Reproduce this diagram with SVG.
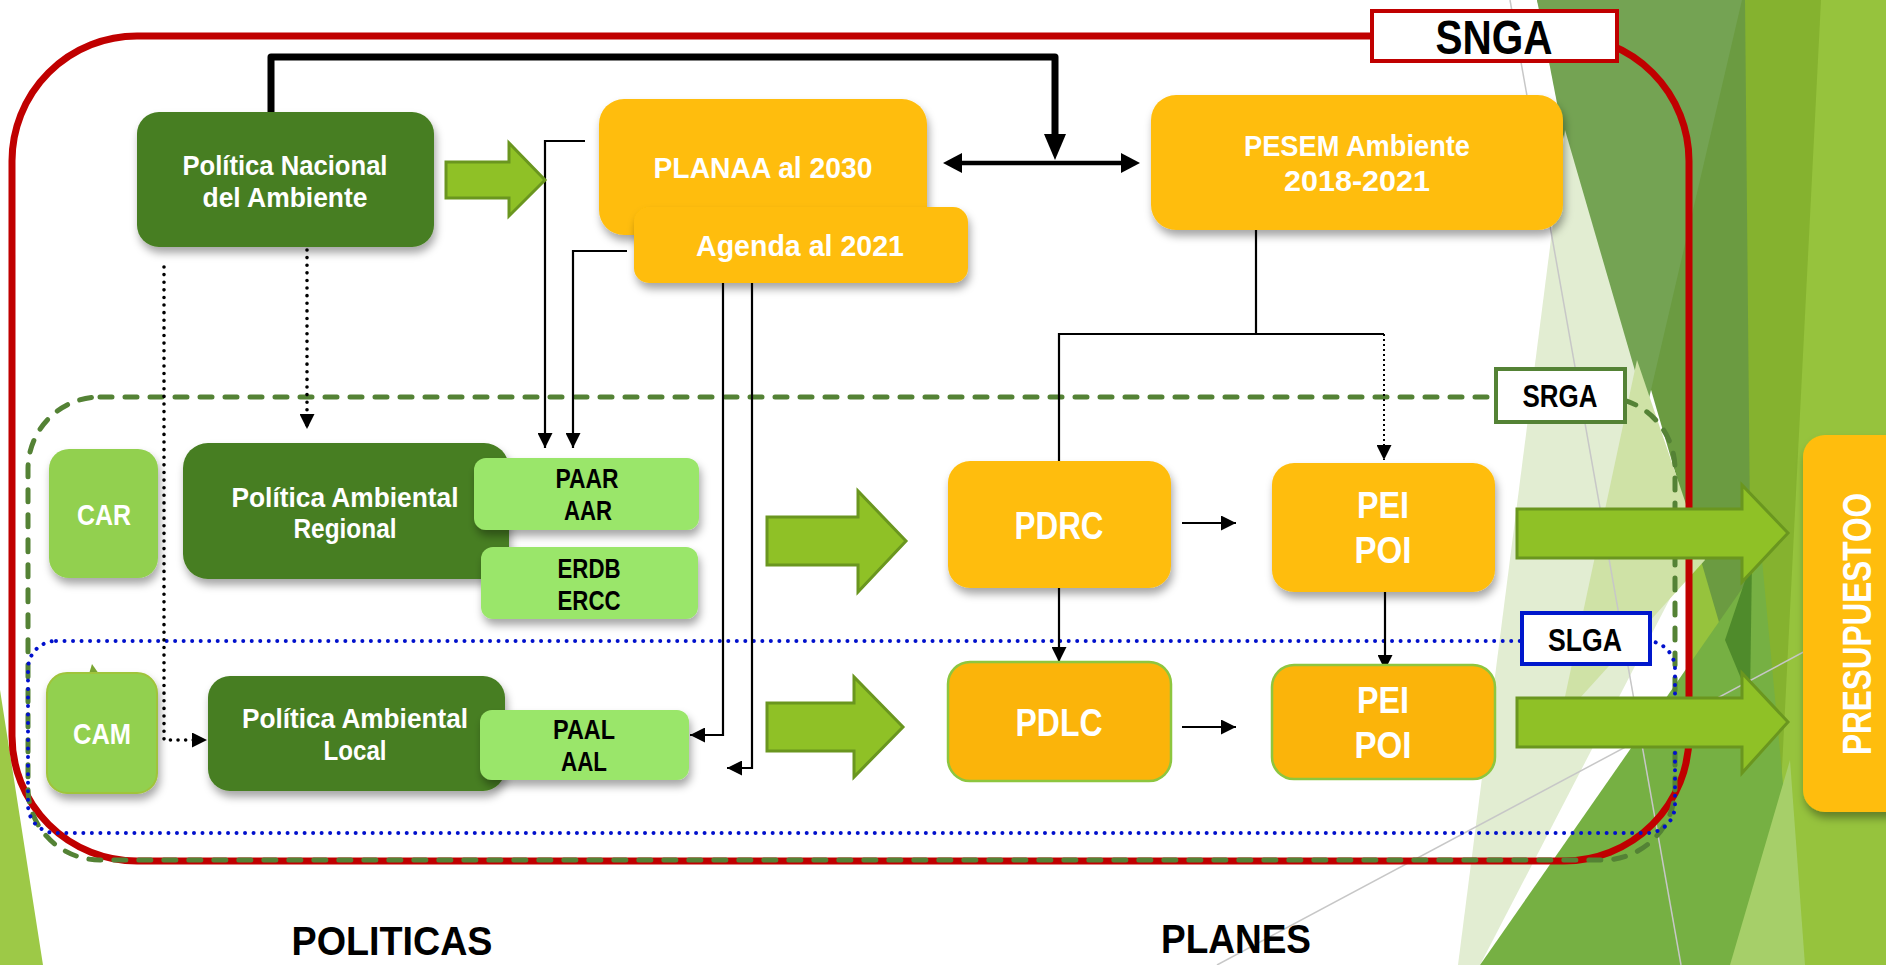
<svg xmlns="http://www.w3.org/2000/svg" width="1886" height="965" viewBox="0 0 1886 965">
<style>
.t{font-family:"Liberation Sans",Arial,sans-serif;font-weight:bold;text-anchor:middle}
.w{fill:#ffffff}
.k{fill:#000000}
.dg{fill:#467e20}
.or{fill:#ffbd0a}
.or2{fill:#fbb40a;stroke:#8dc63f;stroke-width:2.5}
.lg{fill:#9ae66b}
.car{fill:#92d050}
.thin{fill:none;stroke:#000;stroke-width:2.2}
.dot{fill:none;stroke:#000;stroke-width:3.6;stroke-dasharray:0.01 7.6;stroke-linecap:round}
.blk{fill:#8fc126;stroke:#6a961f;stroke-width:3;stroke-linejoin:miter}
.sh{filter:url(#sh)}
</style>
<defs>
<filter id="sh" x="-10%" y="-10%" width="125%" height="135%">
<feDropShadow dx="2" dy="6" stdDeviation="4" flood-color="#000" flood-opacity="0.35"/>
</filter>
<marker id="ah" viewBox="0 0 10 10" refX="10" refY="5" markerUnits="userSpaceOnUse" markerWidth="16" markerHeight="15" orient="auto">
<path d="M0,0 L10,5 L0,10 z" fill="#000"/>
</marker>
</defs>
<rect width="1886" height="965" fill="#ffffff"/>
<g id="background">
<rect x="1690" y="0" width="196" height="965" fill="#96c33d"/>
<polygon points="1716,0 1821,0 1772,965 1735,965" fill="#85b22f"/>
<polygon points="1537,0 1745,0 1752,735" fill="#6b9b41"/>
<polygon points="1537,0 1742,0 1630,480" fill="#74a353"/>
<polygon points="1565,130 1690,560 1480,965 1458,965" fill="#e2edd2"/>
<polygon points="1637,360 1705,560 1560,720" fill="#cfe2a6"/>
<polygon points="1480,965 1762,560 1800,965" fill="#76b043"/>
<polygon points="1725,640 1752,560 1750,700" fill="#4f8b2b"/>
<polygon points="1730,965 1790,760 1805,965" fill="#a6cf69"/>
<line x1="1510" y1="0" x2="1681" y2="965" stroke="#c7c7c7" stroke-width="1.5"/>
<line x1="1217" y1="965" x2="1886" y2="608" stroke="#c7c7c7" stroke-width="1.5"/>
<polygon points="0,690 43,965 0,965" fill="#9dc947"/>
</g>
<g id="regions">
<rect x="12" y="36" width="1677" height="825" rx="125" fill="none" stroke="#c00000" stroke-width="7"/>
<rect x="28" y="397" width="1647" height="463" rx="72" fill="none" stroke="#548235" stroke-width="5" stroke-dasharray="12 13" stroke-linecap="round"/>
<rect x="28" y="641" width="1647" height="192" rx="28" fill="none" stroke="#0010cc" stroke-width="4" stroke-dasharray="0.01 8.5" stroke-linecap="round"/>
</g>
<g id="connectors">
<path d="M271,113 V57 H1055 V138" fill="none" stroke="#000" stroke-width="7" stroke-linejoin="round"/>
<polygon points="1055,160 1044,134 1066,134" fill="#000"/>
<line x1="955" y1="163" x2="1128" y2="163" stroke="#000" stroke-width="4.5"/>
<polygon points="943,163 962,153 962,173" fill="#000"/>
<polygon points="1140,163 1121,153 1121,173" fill="#000"/>
<path class="thin" d="M585,141 H545 V448" marker-end="url(#ah)"/>
<path class="thin" d="M627,251 H573 V448" marker-end="url(#ah)"/>
<path class="thin" d="M723,283 V735 H690" marker-end="url(#ah)"/>
<path class="thin" d="M752,283 V768 H727" marker-end="url(#ah)"/>
<path class="dot" d="M307,250 V429" marker-end="url(#ah)"/>
<path class="dot" d="M164,267 V740 H207" marker-end="url(#ah)"/>
<path class="thin" d="M1256,230 V334"/>
<path class="thin" d="M1059,461 V334 H1384"/>
<path d="M1384,334 V460" fill="none" stroke="#000" stroke-width="2" stroke-dasharray="2 3" marker-end="url(#ah)"/>
<path class="thin" d="M1182,523 H1236" stroke-width="3" marker-end="url(#ah)"/>
<path class="thin" d="M1182,727 H1236" stroke-width="3" marker-end="url(#ah)"/>
<path class="thin" d="M1059,583 V662" marker-end="url(#ah)"/>
<path class="thin" d="M1385,592 V670" marker-end="url(#ah)"/>
<polygon class="blk" points="446,162 509,162 509,143 545,180 509,216 509,198 446,198"/>
<polygon class="blk" points="767,517 858,517 858,491 906,541 858,592 858,565 767,565"/>
<polygon class="blk" points="767,703 854,703 854,677 903,727 854,777 854,751 767,751"/>
<polygon class="blk" points="1517,509 1742,509 1742,485 1788,533 1742,582 1742,558 1517,558"/>
<polygon class="blk" points="1517,698 1742,698 1742,673 1788,722 1742,773 1742,747 1517,747"/>
</g>
<g id="label-snga">
<rect x="1372" y="11" width="245" height="50" fill="#fff" stroke="#c00000" stroke-width="4"/>
<text class="t k" x="1494" y="54" font-size="48" textLength="117" lengthAdjust="spacingAndGlyphs">SNGA</text>
</g>
<g id="label-srga">
<rect x="1496" y="369" width="129" height="53" fill="#fff" stroke="#548235" stroke-width="4"/>
<text class="t k" x="1560" y="407" font-size="31" textLength="75" lengthAdjust="spacingAndGlyphs">SRGA</text>
</g>
<g id="label-slga">
<rect x="1522" y="613" width="128" height="51" fill="#fff" stroke="#0018cc" stroke-width="4"/>
<text class="t k" x="1585" y="651" font-size="31" textLength="74" lengthAdjust="spacingAndGlyphs">SLGA</text>
</g>
<g id="n-politica-nacional">
<rect class="dg sh" x="137" y="112" width="297" height="135" rx="22"/>
<text class="t w" x="285" y="175" font-size="28" textLength="205" lengthAdjust="spacingAndGlyphs">Política Nacional</text>
<text class="t w" x="285" y="207" font-size="28" textLength="165" lengthAdjust="spacingAndGlyphs">del Ambiente</text>
</g>
<g id="n-planaa">
<rect class="or sh" x="599" y="99" width="328" height="136" rx="25"/>
<text class="t w" x="763" y="178" font-size="30" textLength="219" lengthAdjust="spacingAndGlyphs">PLANAA al 2030</text>
</g>
<g id="n-agenda">
<rect class="or sh" x="634" y="207" width="334" height="76" rx="15"/>
<text class="t w" x="800" y="256" font-size="30" textLength="208" lengthAdjust="spacingAndGlyphs">Agenda al 2021</text>
</g>
<g id="n-pesem">
<rect class="or sh" x="1151" y="95" width="412" height="135" rx="25"/>
<text class="t w" x="1357" y="156" font-size="30" textLength="226" lengthAdjust="spacingAndGlyphs">PESEM Ambiente</text>
<text class="t w" x="1357" y="191" font-size="30" textLength="146" lengthAdjust="spacingAndGlyphs">2018-2021</text>
</g>
<g id="n-car">
<rect class="car sh" x="49" y="449" width="109" height="129" rx="20"/>
<text class="t w" x="104" y="525" font-size="30" textLength="54" lengthAdjust="spacingAndGlyphs">CAR</text>
</g>
<g id="n-politica-regional">
<rect class="dg sh" x="183" y="443" width="326" height="136" rx="25"/>
<text class="t w" x="345" y="507" font-size="28" textLength="227" lengthAdjust="spacingAndGlyphs">Política Ambiental</text>
<text class="t w" x="345" y="538" font-size="28" textLength="103" lengthAdjust="spacingAndGlyphs">Regional</text>
</g>
<g id="n-paar">
<rect class="lg sh" x="474" y="458" width="225" height="72" rx="12"/>
<text class="t k" x="587" y="488" font-size="27" textLength="63" lengthAdjust="spacingAndGlyphs">PAAR</text>
<text class="t k" x="588" y="520" font-size="27" textLength="48" lengthAdjust="spacingAndGlyphs">AAR</text>
</g>
<g id="n-erdb">
<rect class="lg sh" x="481" y="547" width="217" height="72" rx="12"/>
<text class="t k" x="589" y="578" font-size="27" textLength="63" lengthAdjust="spacingAndGlyphs">ERDB</text>
<text class="t k" x="589" y="610" font-size="27" textLength="63" lengthAdjust="spacingAndGlyphs">ERCC</text>
</g>
<g id="n-cam">
<polygon points="92,664 99,674 89,674" fill="#7aa632"/>
<rect class="car sh" x="47" y="673" width="110" height="120" rx="20" stroke="#9fc43a" stroke-width="2"/>
<text class="t w" x="102" y="744" font-size="30" textLength="58" lengthAdjust="spacingAndGlyphs">CAM</text>
</g>
<g id="n-politica-local">
<rect class="dg sh" x="208" y="676" width="297" height="115" rx="22"/>
<text class="t w" x="355" y="728" font-size="28" textLength="226" lengthAdjust="spacingAndGlyphs">Política Ambiental</text>
<text class="t w" x="355" y="760" font-size="28" textLength="63" lengthAdjust="spacingAndGlyphs">Local</text>
</g>
<g id="n-paal">
<rect class="lg sh" x="480" y="710" width="209" height="70" rx="12"/>
<text class="t k" x="584" y="739" font-size="27" textLength="62" lengthAdjust="spacingAndGlyphs">PAAL</text>
<text class="t k" x="584" y="771" font-size="27" textLength="46" lengthAdjust="spacingAndGlyphs">AAL</text>
</g>
<g id="n-pdrc">
<rect class="or sh" x="948" y="461" width="223" height="127" rx="22"/>
<text class="t w" x="1059" y="539" font-size="38" textLength="89" lengthAdjust="spacingAndGlyphs">PDRC</text>
</g>
<g id="n-pdlc">
<rect class="or2" x="948" y="662" width="223" height="119" rx="22"/>
<text class="t w" x="1059" y="736" font-size="38" textLength="87" lengthAdjust="spacingAndGlyphs">PDLC</text>
</g>
<g id="n-pei-regional">
<rect class="or sh" x="1272" y="463" width="223" height="129" rx="22"/>
<text class="t w" x="1383" y="518" font-size="37" textLength="52" lengthAdjust="spacingAndGlyphs">PEI</text>
<text class="t w" x="1383" y="563" font-size="37" textLength="57" lengthAdjust="spacingAndGlyphs">POI</text>
</g>
<g id="n-pei-local">
<rect class="or2" x="1272" y="665" width="223" height="114" rx="22"/>
<text class="t w" x="1383" y="713" font-size="37" textLength="52" lengthAdjust="spacingAndGlyphs">PEI</text>
<text class="t w" x="1383" y="758" font-size="37" textLength="57" lengthAdjust="spacingAndGlyphs">POI</text>
</g>
<g id="n-presupuesto">
<rect class="or sh" x="1803" y="435" width="110" height="377" rx="22"/>
<text class="t w" transform="translate(1871,624) rotate(-90)" x="0" y="0" font-size="40" textLength="262" lengthAdjust="spacingAndGlyphs">PRESUPUESTOO</text>
</g>
<g id="footer">
<text class="t k" x="392" y="955" font-size="40" textLength="201" lengthAdjust="spacingAndGlyphs">POLITICAS</text>
<text class="t k" x="1236" y="953" font-size="40" textLength="150" lengthAdjust="spacingAndGlyphs">PLANES</text>
</g>
</svg>
